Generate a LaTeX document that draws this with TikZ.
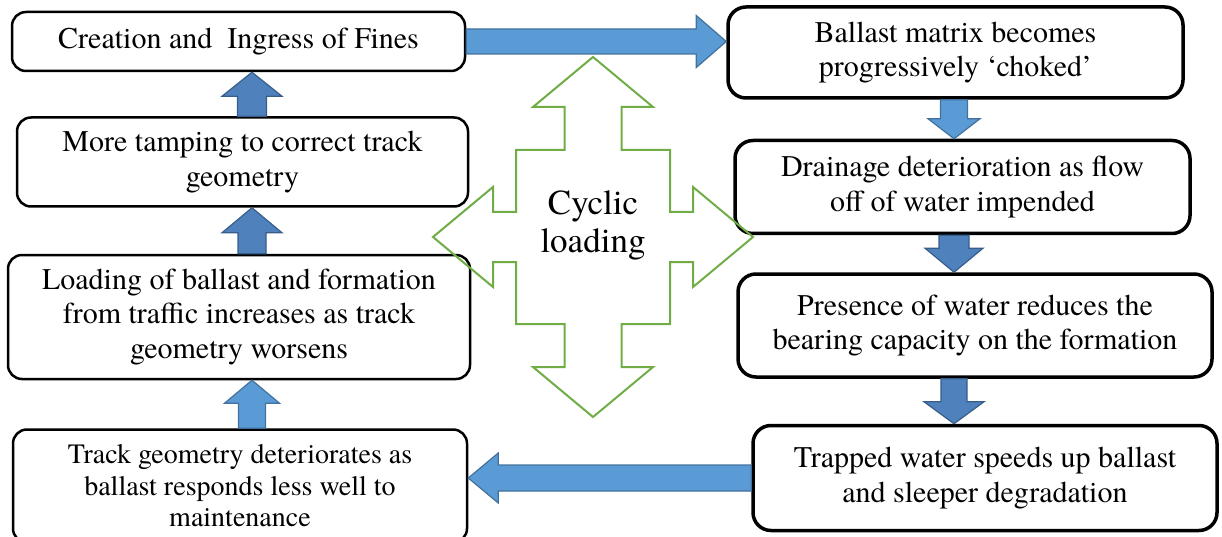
\documentclass[tikz,border=0pt]{standalone}
\usepackage{xcolor}
\usepackage{fontspec}
\setmainfont{TeX Gyre Termes}
\usepackage{tikz}
\definecolor{arrowlight}{RGB}{91, 155, 213}
\definecolor{arrowlightedge}{RGB}{65, 113, 156}
\definecolor{arrowdark}{RGB}{79, 129, 189}
\definecolor{arrowdarkedge}{RGB}{56, 93, 138}
\definecolor{crossgreen}{RGB}{112, 173, 71}
\usetikzlibrary{positioning, calc}

% block arrow from #2 to the tip #3: shaft half width #4, head half width #5, head length #6
\newcommand{\blockarrow}[6][]{%
  \coordinate (ba-s) at (#2);
  \coordinate (ba-t) at (#3);
  \coordinate (ba-h) at ($(ba-t)!#6!(ba-s)$);
  \draw[#1] ($(ba-s)!#4!90:(ba-t)$) -- ($(ba-h)!#4!90:(ba-t)$)
    -- ($(ba-h)!#5!90:(ba-t)$) -- (ba-t) -- ($(ba-h)!#5!-90:(ba-t)$)
    -- ($(ba-h)!#4!-90:(ba-t)$) -- ($(ba-s)!#4!-90:(ba-t)$) -- cycle;
}

\begin{document}
\begin{tikzpicture}[
    x=1pt, y=1pt,
    leftbox/.style={rectangle, draw=black, line width=2.5pt, fill=white,
                    rounded corners=14pt, align=center,
                    font=\fontsize{30}{34.5}\selectfont},
    rightbox/.style={rectangle, draw=black, line width=3.5pt, fill=white,
                     rounded corners=18pt, align=center,
                     font=\fontsize{30}{34.5}\selectfont},
    lightarrow/.style={fill=arrowlight, draw=arrowlightedge, line width=1.2pt},
    darkarrow/.style={fill=arrowdark, draw=arrowdarkedge, line width=1.2pt},
    cyclecross/.style={draw=crossgreen, line width=2pt}
]
    \useasboundingbox (0,0) rectangle (1222,-537);

    % Left column
    \node[leftbox, minimum width=453pt, minimum height=59pt] (l1) at (238.5,-41.5)
        {Creation and~ Ingress of Fines};
    \node[leftbox, minimum width=451pt, minimum height=89pt, below=44pt of l1, xshift=4pt] (l2)
        {More tamping to correct track\\geometry};
    \node[leftbox, minimum width=462pt, minimum height=124pt, below=46pt of l2, xshift=-3.5pt] (l3)
        {Loading of ballast and formation\\from traffic increases as track\\geometry worsens};
    \node[leftbox, minimum width=454pt, minimum height=113pt, below=48pt of l3, xshift=1pt,
          font=\fontsize{28}{31.5}\selectfont] (l4)
        {Track geometry deteriorates as\\ballast responds less well to\\maintenance};

    % Right column
    \node[rightbox, minimum width=455pt, minimum height=91pt] (r1) at (955.5,-52.5)
        {Ballast matrix becomes\\progressively ‘choked’};
    \node[rightbox, minimum width=455pt, minimum height=93pt, below=39pt of r1, xshift=7pt] (r2)
        {Drainage deterioration as flow\\off of water impended};
    \node[rightbox, minimum width=474pt, minimum height=103pt, below=37pt of r2, xshift=12.5pt] (r3)
        {Presence of water reduces the\\bearing capacity on the formation};
    \node[rightbox, minimum width=464pt, minimum height=105pt, below=45pt of r3, xshift=10pt] (r4)
        {Trapped water speeds up ballast\\and sleeper degradation};

    % Cyclic loading cross
    \coordinate (cc) at (593,-237);
    \draw[cyclecross, shift={(cc)}]
        (0,180) -- (60,130) -- (28.5,130) -- (28.5,87) -- (77,87) -- (77,25)
        -- (100,25) -- (100,50) -- (160,0) -- (100,-50) -- (100,-25) -- (77,-25)
        -- (77,-87) -- (28.5,-87) -- (28.5,-130) -- (60,-130) -- (0,-180)
        -- (-60,-130) -- (-28.5,-130) -- (-28.5,-87) -- (-77,-87) -- (-77,-25)
        -- (-100,-25) -- (-100,-50) -- (-160,0) -- (-100,50) -- (-100,25)
        -- (-77,25) -- (-77,87) -- (-28.5,87) -- (-28.5,130) -- (-60,130) -- cycle;
    \node[align=center, font=\fontsize{35}{38}\selectfont] (cyclic) at ([yshift=12pt]cc)
        {Cyclic\\loading};

    % Block arrows
    \coordinate (lcol) at (252,0);
    \coordinate (rcol) at (954,0);
    \blockarrow[lightarrow]{l1.east}{r1.west |- l1.east}{12.5pt}{26pt}{30pt}
    \blockarrow[lightarrow]{rcol |- r1.south}{rcol |- r2.north}{13.5pt}{26pt}{20pt}
    \blockarrow[darkarrow]{rcol |- r2.south}{rcol |- r3.north}{15pt}{29pt}{24pt}
    \blockarrow[darkarrow]{rcol |- r3.south}{rcol |- r4.north}{13pt}{30pt}{22pt}
    \blockarrow[lightarrow]{r4.west}{l4.east |- r4.west}{13pt}{25pt}{30pt}
    \blockarrow[lightarrow]{lcol |- l4.north}{lcol |- l3.south}{13.5pt}{27.5pt}{23pt}
    \blockarrow[darkarrow]{lcol |- l3.north}{lcol |- l2.south}{14pt}{30pt}{25pt}
    \blockarrow[darkarrow]{lcol |- l2.north}{lcol |- l1.south}{14.5pt}{30pt}{24pt}
\end{tikzpicture}
\end{document}
